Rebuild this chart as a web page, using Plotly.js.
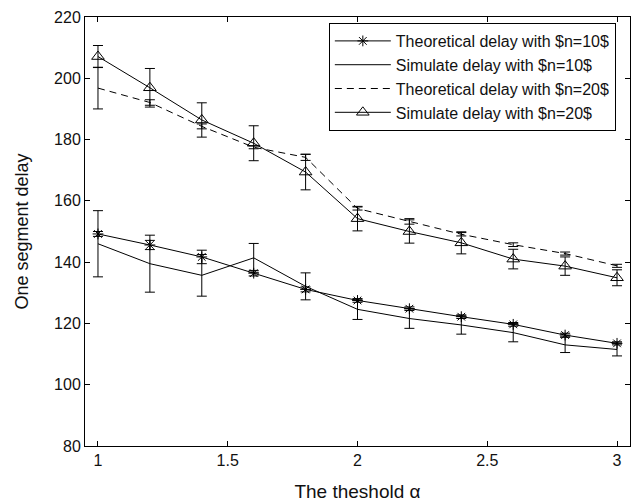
<!DOCTYPE html>
<html>
<head>
<meta charset="utf-8">
<script src="https://cdn.plot.ly/plotly-3.0.1.min.js"></script>
<style>html,body{margin:0;padding:0;background:#fff;}#chart{width:634px;height:502px;}</style>
</head>
<body>
<div id="chart"></div>
<script>
const alpha = [1, 1.2, 1.4, 1.6, 1.8, 2.0, 2.2, 2.4, 2.6, 2.8, 3.0];
const theoN10 = [149.2, 145.6, 141.7, 136.4, 131.1, 127.5, 124.8, 122.2, 119.7, 116.2, 113.5];
const theoN10Err = [0.8, 1.5, 2.2, 0.9, 0.8, 0.6, 0.6, 0.6, 0.6, 0.6, 0.5];
const simN10 = [146.0, 139.5, 135.7, 141.4, 132.1, 124.6, 121.6, 119.5, 117.0, 113.0, 111.5];
const simN10Err = [10.8, 9.3, 6.8, 4.7, 4.4, 3.3, 3.2, 3.0, 3.0, 2.5, 2.1];
const theoN20 = [196.8, 192.1, 184.3, 177.5, 174.2, 157.5, 153.3, 149.1, 145.7, 142.8, 138.8];
const theoN20Err = [6.8, 0.9, 0.8, 0.5, 1.0, 0.5, 0.9, 0.55, 0.6, 0.5, 0.5];
const simN20 = [207.1, 196.9, 186.4, 178.8, 169.4, 154.2, 150.0, 146.3, 141.0, 138.7, 134.9];
const simN20Err = [3.6, 6.3, 5.6, 5.7, 5.8, 4.0, 3.8, 3.6, 3.2, 3.0, 2.6];
const names = ["Theoretical delay with $n=10$", "Simulate delay with $n=10$",
               "Theoretical delay with $n=20$", "Simulate delay with $n=20$"];
const xTicks = [1, 1.5, 2, 2.5, 3];
const xTickText = ["1", "1.5", "2", "2.5", "3"];
const yTicks = [80, 100, 120, 140, 160, 180, 200, 220];

function err(arr) {
  return {type: 'data', array: arr, visible: true, color: '#000', thickness: 1, width: 5};
}
const traces = [
  {x: alpha, y: theoN10, error_y: err(theoN10Err), name: names[0], mode: 'lines+markers',
   line: {color: '#000', width: 1}, marker: {symbol: 'asterisk-open', size: 9, color: '#000', line: {color: '#000', width: 1}}},
  {x: alpha, y: simN10, error_y: err(simN10Err), name: names[1], mode: 'lines',
   line: {color: '#000', width: 1}},
  {x: alpha, y: theoN20, error_y: err(theoN20Err), name: names[2], mode: 'lines',
   line: {color: '#000', width: 1, dash: '7px,5px'}},
  {x: alpha, y: simN20, error_y: err(simN20Err), name: names[3], mode: 'lines+markers',
   line: {color: '#000', width: 1}, marker: {symbol: 'triangle-up-open', size: 11, color: '#000', line: {color: '#000', width: 1}}}
];
traces.forEach(t => { t.type = 'scatter'; });

const font = {family: 'Liberation Sans, Arial, Helvetica, sans-serif', color: '#111', size: 16};
const layout = {
  width: 634, height: 502,
  margin: {l: 85, r: 4, t: 17, b: 56},
  paper_bgcolor: '#fff', plot_bgcolor: '#fff',
  font: font,
  showlegend: true,
  legend: {x: 0.974, xanchor: 'right', y: 0.986, yanchor: 'top',
           bgcolor: '#fff', bordercolor: '#000', borderwidth: 1,
           font: {family: font.family, size: 16, color: '#111'}, itemwidth: 56,
           tracegroupgap: 0},
  xaxis: {range: [0.95, 3.05], tickvals: xTicks, ticktext: xTickText,
          ticks: 'inside', ticklen: 5, tickcolor: '#000', showline: true, linecolor: '#000', linewidth: 1,
          mirror: 'ticks', showgrid: false, zeroline: false,
          tickfont: {size: 16}, title: {text: 'The theshold α', font: {size: 19}, standoff: 17}},
  yaxis: {range: [80, 220], tickvals: yTicks,
          ticks: 'inside', ticklen: 5, tickcolor: '#000', showline: true, linecolor: '#000', linewidth: 1,
          mirror: 'ticks', showgrid: false, zeroline: false,
          tickfont: {size: 16}, title: {text: 'One segment delay', font: {size: 18}, standoff: 20}}
};
Plotly.newPlot('chart', traces, layout, {staticPlot: true, displayModeBar: false});
</script>
</body>
</html>
